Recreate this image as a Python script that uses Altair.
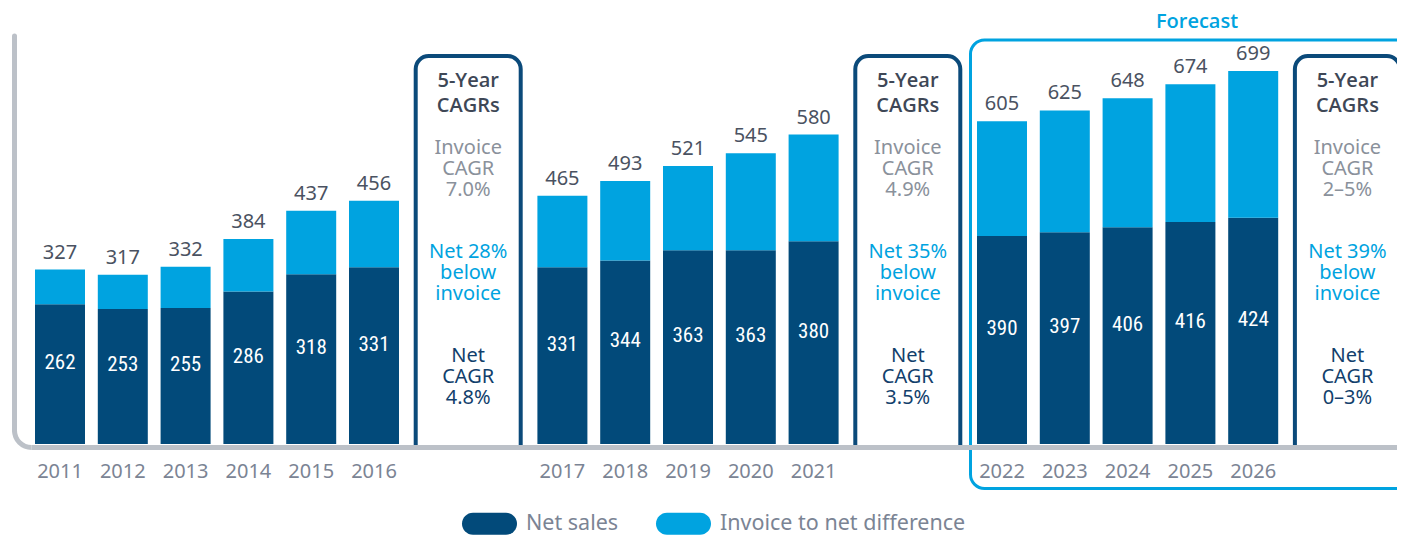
import math
import altair as alt
import pandas as pd

# ---------------- data ----------------
years = ["2011", "2012", "2013", "2014", "2015", "2016",
         "2017", "2018", "2019", "2020", "2021",
         "2022", "2023", "2024", "2025", "2026"]
invoice_sales = [327, 317, 332, 384, 437, 456,
                 465, 493, 521, 545, 580,
                 605, 625, 648, 674, 699]
net_sales = [262, 253, 255, 286, 318, 331,
             331, 344, 363, 363, 380,
             390, 397, 406, 416, 424]

series_names = ["Net sales", "Invoice to net difference"]

box_titles = ["5-Year\nCAGRs", "5-Year\nCAGRs", "5-Year\nCAGRs"]
box_invoice = ["Invoice\nCAGR\n7.0%", "Invoice\nCAGR\n4.9%", "Invoice\nCAGR\n2–5%"]
box_gap = ["Net 28%\nbelow\ninvoice", "Net 35%\nbelow\ninvoice", "Net 39%\nbelow\ninvoice"]
box_net = ["Net\nCAGR\n4.8%", "Net\nCAGR\n3.5%", "Net\nCAGR\n0–3%"]

forecast_label = ["Forecast"]

# ---------------- layout / style ----------------
DARK = "#024a7a"
LIGHT = "#00a3e0"
BOX = "#0b4a7a"
GRAY_AXIS = "#bcc1c8"
TXT_DARK = "#4a5261"
TXT_GRAY = "#7b8494"
FONT = "Noto Sans"
SEMI = "'Open Sans', 'Noto Sans', sans-serif"
NARROW = "'Roboto Condensed', 'DejaVu Sans Condensed', 'Liberation Sans Narrow', 'Open Sans Condensed', sans-serif"

groups = [years[0:6], years[6:11], years[11:16]]
spacers = [[" ", "  "], ["   ", "    "], ["     ", "      "]]
domain = []
for g, s in zip(groups, spacers):
    domain += g + s
box_slots = [s[0] for s in spacers]

N = len(domain)
STEP = 62.8
RANGE_W = N * STEP          # full band range
PAD_L = 20.6
VIEW_W = 1389 - PAD_L       # keep the svg inside the page width
H = 408
YMAX = 764.6

# ---------------- tables ----------------
rows = []
for yr, tot, nt in zip(years, invoice_sales, net_sales):
    rows.append({"slot": yr, "series": series_names[0], "lo": 0, "hi": nt})
    rows.append({"slot": yr, "series": series_names[1], "lo": nt, "hi": tot})
bar_df = pd.DataFrame(rows)
lab_df = pd.DataFrame({"slot": years, "total": invoice_sales, "net": net_sales})
box_df = pd.DataFrame({"slot": box_slots, "title": box_titles, "inv": box_invoice,
                       "gap": box_gap, "net": box_net})
one = pd.DataFrame({"t": forecast_label})

xscale = alt.Scale(domain=domain, paddingInner=0.2, paddingOuter=0.1, range=[0, RANGE_W])
X = alt.X("slot:N", scale=xscale, sort=domain,
          axis=alt.Axis(title=None, ticks=False, tickSize=0, domain=False, labelAngle=0,
                        labelFont=FONT, labelFontSize=20, labelColor=TXT_GRAY,
                        labelPadding=17, grid=False))
yscale = alt.Scale(domain=[0, YMAX], nice=False, zero=True)

# forecast frame
forecast_box = alt.Chart(one).mark_rect(
    fill="transparent", stroke=LIGHT, strokeWidth=3, cornerRadius=14
).encode(x=alt.value(941.9), x2=alt.value(1460), y=alt.value(4), y2=alt.value(452.5))

forecast_txt = alt.Chart(one).mark_text(
    font=SEMI, fontSize=20, fontWeight=600, color=LIGHT, align="center", baseline="middle"
).encode(x=alt.value(1168.4), y=alt.value(-14.5), text="t:N")

# CAGR boxes
boxes = alt.Chart(box_df).mark_bar(
    width=105, xOffset=STEP / 2, fill="white", stroke=BOX, strokeWidth=4,
    cornerRadiusTopLeft=13, cornerRadiusTopRight=13
).encode(x=X, y=alt.value(20), y2=alt.value(411.5))


def box_text(field, color, y, weight="normal", lh=21, font=FONT):
    return alt.Chart(box_df).mark_text(
        font=font, fontSize=20, fontWeight=weight, color=color, lineBreak="\n",
        lineHeight=lh, align="center", baseline="middle", xOffset=STEP / 2
    ).encode(x=X, y=alt.value(y), text=f"{field}:N")


t1 = box_text("title", "#3e4756", 45, 600, 25, SEMI)
t2 = box_text("inv", "#8a919b", 112)
t3 = box_text("gap", LIGHT, 216)
t4 = box_text("net", "#123f6c", 320)

# bars
pill = ("M-0.63,-0.42 L0.63,-0.42 A0.42,0.42 0 0 1 0.63,0.42 "
        "L-0.63,0.42 A0.42,0.42 0 0 1 -0.63,-0.42 Z")
bars = alt.Chart(bar_df).mark_bar(width=50).encode(
    x=X,
    y=alt.Y("lo:Q", scale=yscale, axis=None),
    y2="hi:Q",
    color=alt.Color("series:N", scale=alt.Scale(domain=series_names, range=[DARK, LIGHT]),
                    legend=alt.Legend(title=None, orient="none", legendX=434.4, legendY=461,
                                      direction="horizontal", symbolType=pill,
                                      symbolSize=2745, symbolStrokeWidth=0, symbolOpacity=1,
                                      labelFont=FONT, labelFontSize=21.5, labelColor=TXT_GRAY,
                                      labelLimit=500, labelOffset=10, columnPadding=36,
                                      padding=0)),
)

total_lab = alt.Chart(lab_df).mark_text(
    font=FONT, fontSize=20, color=TXT_DARK, baseline="middle", dy=-17
).encode(x=X, y=alt.Y("total:Q", scale=yscale), text="total:Q")

net_lab = alt.Chart(lab_df).transform_calculate(mid="datum.net / 2").mark_text(
    font=NARROW, fontSize=21, color="white", baseline="middle", dy=-11
).encode(x=X, y=alt.Y("mid:Q", scale=yscale), text="net:Q")

# custom axis frame (L with rounded corner)
left_line = alt.Chart(one).mark_rule(color=GRAY_AXIS, strokeWidth=5, strokeCap="round").encode(
    x=alt.value(-14.1), y=alt.value(0), y2=alt.value(394.5))
base_line = alt.Chart(one).mark_rule(color=GRAY_AXIS, strokeWidth=4.8).encode(
    x=alt.value(2.9), x2=alt.value(1460), y=alt.value(411.5))
corner = alt.Chart(one).mark_arc(
    theta=math.pi, theta2=1.5 * math.pi, radius=19.5, radius2=14.5, color=GRAY_AXIS
).encode(x=alt.value(2.9), y=alt.value(394.5))

chart = alt.layer(
    forecast_box, forecast_txt, boxes, t1, t2, t3, t4,
    bars, total_lab, net_lab, left_line, base_line, corner
).properties(
    width=VIEW_W, height=H,
    autosize=alt.AutoSizeParams(type="none"),
    padding={"left": PAD_L, "top": 28, "right": 0, "bottom": 100},
).configure_view(stroke=None)

chart.save("out.html", embed_options={"renderer": "svg", "actions": False})
